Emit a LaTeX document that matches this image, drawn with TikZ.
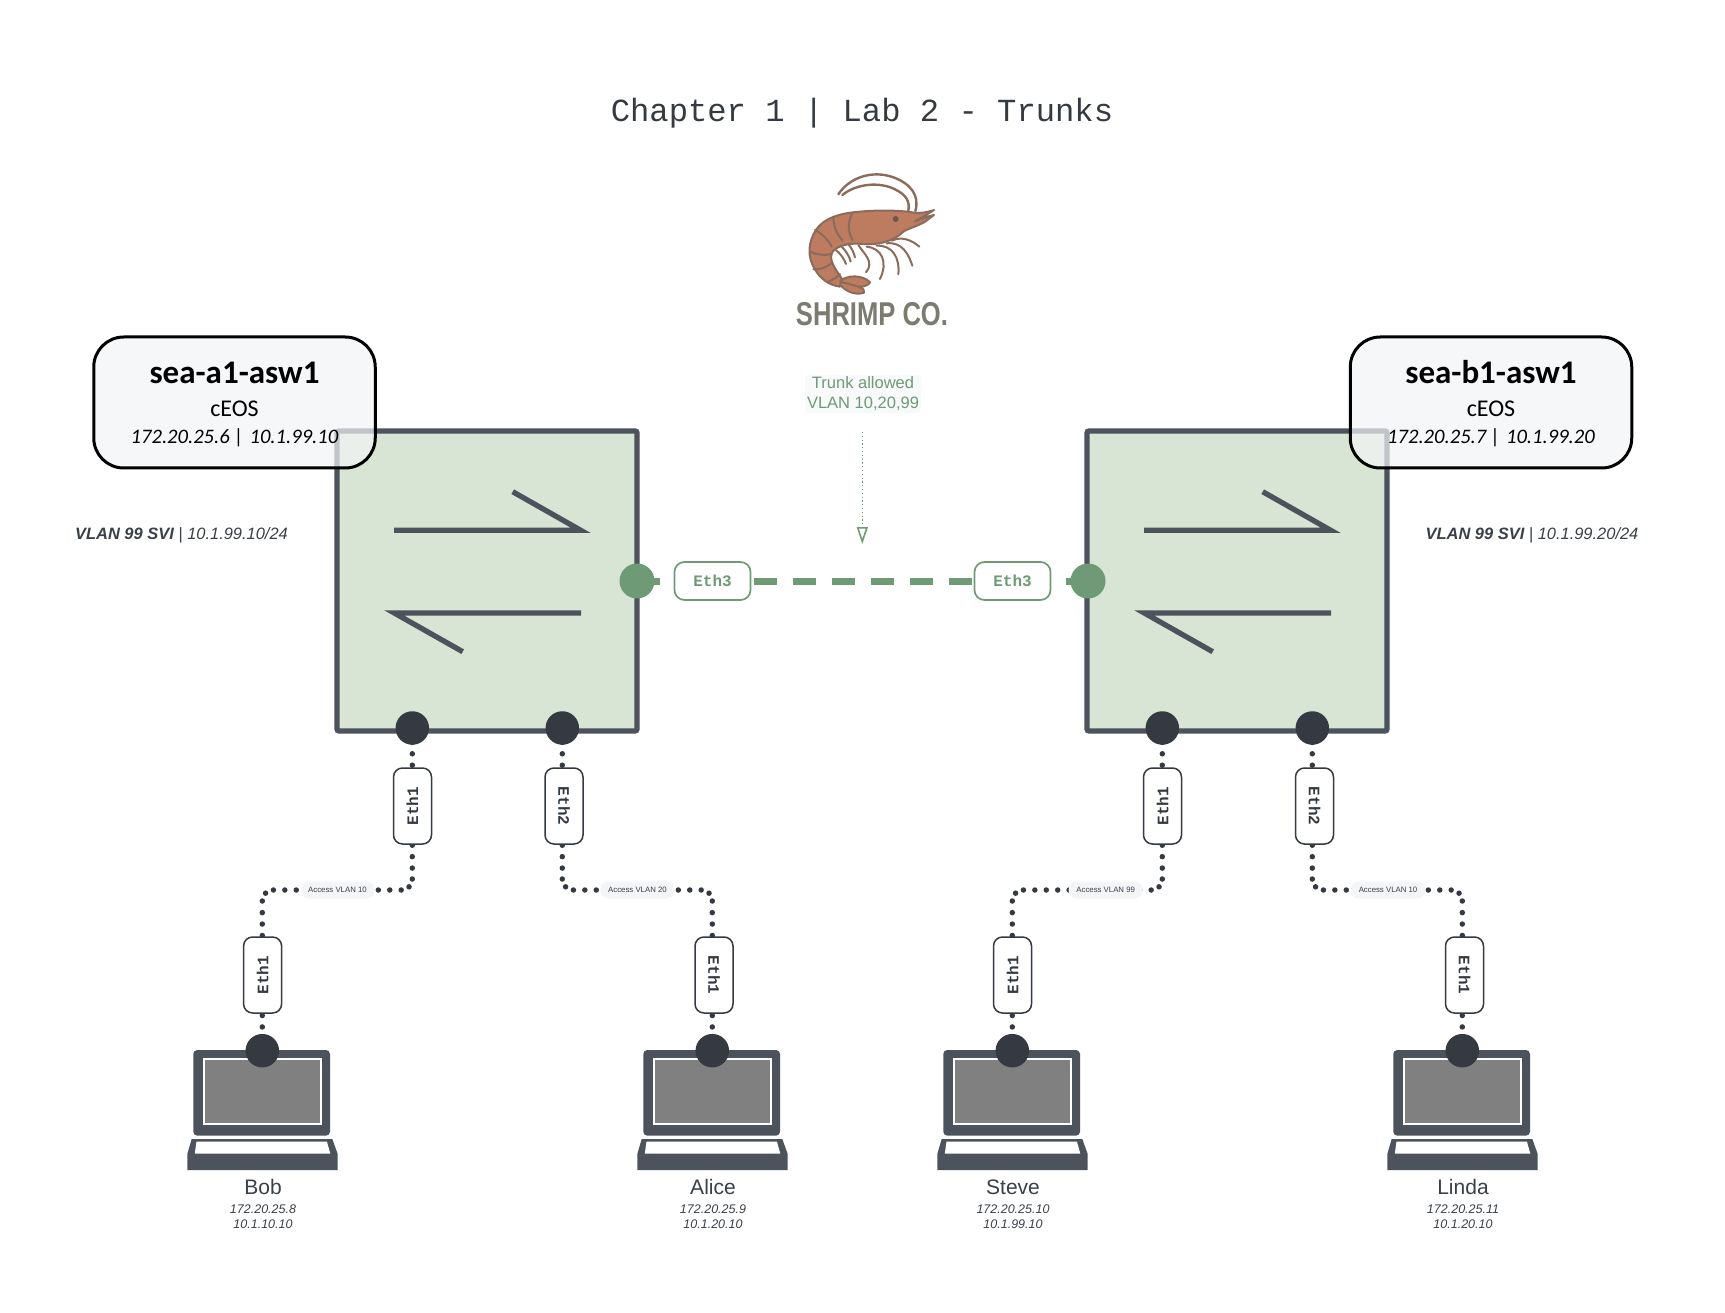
\documentclass[tikz,border=0pt]{standalone}
\usepackage{fontspec}
\setmainfont{Liberation Sans}
\setmonofont{Liberation Mono}
\newfontfamily\carl{Carlito}
\newfontfamily\shrimpfont[FakeStretch=0.775]{Liberation Sans}
\usetikzlibrary{arrows.meta,backgrounds}
\definecolor{slate}{HTML}{4C535D}
\definecolor{ink}{HTML}{353A42}
\definecolor{txt}{HTML}{3A4049}
\definecolor{swfill}{HTML}{D8E4D4}
\definecolor{sage}{HTML}{6F9A76}
\definecolor{panel}{HTML}{F3F5F7}
\definecolor{shr}{HTML}{BD7C60}
\definecolor{shrline}{HTML}{8A6B5C}
\definecolor{brandgrey}{HTML}{7B7B70}
\newcommand\fsz[2]{\fontsize{#1}{#2}\selectfont}
\tikzset{
  switchbox/.style={draw=slate,line width=5.3pt,fill=swfill,minimum size=300pt,inner sep=0pt,outer sep=0pt,rounded corners=2pt},
  swarrow/.style={draw=slate,line width=5.3pt,line join=miter,miter limit=10},
  infobox/.style={draw=black,line width=3pt,fill=panel,fill opacity=.7,text opacity=1,rounded corners=30pt,minimum width=281.5pt,minimum height=131pt,inner sep=0pt,align=center,text=black,font=\carl},
  portdark/.style={circle,fill=ink,minimum size=33.5pt,inner sep=0pt},
  portgreen/.style={circle,fill=sage,minimum size=35pt,inner sep=0pt},
  ethv/.style={draw=ink,line width=1.5pt,fill=white,rounded corners=9pt,minimum width=38pt,minimum height=76pt,inner sep=0pt,text=ink,font=\ttfamily\bfseries\fsz{16}{18}},
  ethh/.style={draw=sage,line width=1.7pt,fill=white,rounded corners=10pt,minimum width=76pt,minimum height=38pt,inner sep=0pt,text=sage,font=\ttfamily\bfseries\fsz{16}{18}},
  dotlink/.style={draw=ink,line width=5.5pt,line cap=round,dash pattern=on 0pt off 11.43pt},
  dotcorner/.style={draw=ink,line width=5.5pt,line cap=round,rounded corners=11pt,dash pattern=on 0pt off 8.64pt on 0pt off 8.64pt on 0pt off 11.43pt on 0pt off 11.43pt on 0pt off 11.43pt on 0pt off 11.43pt on 0pt off 11.43pt},
  trunklink/.style={draw=sage,line width=7pt,dash pattern=on 23pt off 16pt},
  vlanpill/.style={fill=panel,rounded corners=8pt,minimum width=74pt,minimum height=17pt,inner sep=0pt,text=txt,font=\fsz{7.8}{9}},
  svitext/.style={text=txt,inner sep=0pt,font=\itshape\fsz{16.45}{20}},
  hostname/.style={text=txt,inner sep=0pt,font=\fsz{21}{24}},
  hostip/.style={text=txt,inner sep=0pt,align=center,font=\itshape\fsz{12.5}{15}},
  laptopdark/.style={fill=slate},
  shrimpbody/.style={draw=shrline,line width=2pt,fill=shr,line join=round},
  shrimpline/.style={draw=shrline,line width=2pt,line cap=round},
}
\newcommand\laptop[2]{%
  \begin{scope}[shift={(#2,1050.7)}]
    \fill[laptopdark,rounded corners=4pt] (-69,-0.7) rectangle (67.7,85);
    \draw[white,line width=2pt,fill=gray] (-58.6,8.6) rectangle (58.4,73.3);
    \fill[laptopdark] (-70.6,88.3) -- (70,88.3) -- (75.4,103.3) -- (75.4,119.3) -- (-75,119.3) -- (-75,103.3) -- cycle;
    \fill[white] (-65.8,90.8) -- (64.6,90.8) -- (68,103) -- (-67.5,103) -- cycle;
  \end{scope}
  \node[portdark] (#1) at (#2,1050.7) {};
}
% one half of a host link: from a port to the VLAN pill on its row
\newcommand\halflink[4]{%
  \draw[dotlink,dash phase=#4] (#1.center) -- ([yshift=#3*15pt]#1.center |- #2.center);
  \draw[dotcorner] ([yshift=#3*11pt]#1.center |- #2.center) -- (#1.center |- #2.center) -- (#2.center);
}
\begin{document}
\begin{tikzpicture}[x=1pt,y=-1pt]
\useasboundingbox (0,0) rectangle (1725,1313);

% title
\node[text=ink,inner sep=0pt,font=\ttfamily\fsz{32.2}{36}] (title) at (862,113.5) {Chapter 1 | Lab 2 - Trunks};

% shrimp logo
\begin{scope}[shift={(760,150)},x=.33333pt,y=-.33333pt]
  \draw[shrimpline,line width=2.4pt] (235,133) .. controls (270,80) and (340,60) .. (400,82) .. controls (450,100) and (480,135) .. (466,183);
  \draw[shrimpline,line width=2.4pt] (247,135) .. controls (290,100) and (360,95) .. (405,118) .. controls (440,135) and (450,155) .. (445,183);
  \draw[shrimpline] (395,272) .. controls (425,258) and (455,270) .. (478,290);
  \draw[shrimpline] (380,280) .. controls (425,275) and (445,310) .. (457,347);
  \draw[shrimpline] (350,287) .. controls (395,285) and (420,320) .. (415,373);
  \draw[shrimpline] (320,290) .. controls (365,295) and (385,335) .. (360,387);
  \draw[shrimpline] (295,285) .. controls (310,310) and (345,335) .. (318,367);
  \draw[shrimpline] (265,282) .. controls (275,295) and (282,308) .. (285,322);
  \draw[shrimpline] (245,290) .. controls (258,303) and (268,318) .. (272,335);
  \draw[shrimpline] (228,300) .. controls (242,312) and (252,326) .. (258,342);
  \draw[shrimpbody] (238,396) .. controls (260,372) and (310,375) .. (330,397) .. controls (322,408) and (310,410) .. (298,411) .. controls (310,415) and (315,422) .. (312,428) .. controls (290,436) and (260,428) .. (238,402) -- cycle;
  \draw[shrimpbody] (522,180) .. controls (500,188) and (480,190) .. (462,188) .. controls (420,180) and (340,180) .. (290,186) .. controls (240,190) and (190,205) .. (168,240) .. controls (145,275) and (140,320) .. (165,358) .. controls (180,385) and (205,405) .. (240,410) -- (245,385) .. controls (220,350) and (205,325) .. (218,305) .. controls (235,285) and (270,278) .. (310,282) .. controls (350,286) and (400,275) .. (430,245) .. controls (445,235) and (475,228) .. (495,215) -- (522,195) .. controls (505,198) and (485,207) .. (465,214) -- (490,200) -- cycle;
  \draw[shrimpline] (220,200) .. controls (220,225) and (228,250) .. (248,272);
  \draw[shrimpline] (275,193) .. controls (262,220) and (265,250) .. (278,270);
  \draw[shrimpline] (165,240) .. controls (185,250) and (205,270) .. (215,290);
  \draw[shrimpline] (150,305) .. controls (170,315) and (195,317) .. (215,312);
  \draw[shrimpline] (160,358) .. controls (180,360) and (200,352) .. (217,338);
  \draw[shrimpline] (205,395) .. controls (218,390) and (232,380) .. (240,372);
  \draw[shrimpline] (240,395) -- (300,411);
  \fill[shrline!80!black] (407,207) circle[radius=9];
\end{scope}
\node[text=brandgrey,inner sep=0pt,font=\shrimpfont\bfseries\fsz{33}{36}] (brand) at (872,314) {SHRIMP CO.};

% trunk note
\node[fill=panel,fill opacity=.6,text opacity=1,rounded corners=4pt,text=sage,inner sep=2pt,align=center,font=\fsz{16.5}{20}] (trunknote) at (863,394) {Trunk allowed\\VLAN 10,20,99};
\coordinate (trunkS) at (862.3,432);
\coordinate (trunkE) at (862.3,544);
\draw[draw=sage,line width=1.2pt,dash pattern=on 1.2pt off 2.6pt,-{Triangle[open,length=17pt,width=11pt,line width=1.6pt]}] (trunkS) -- (trunkE);

% switches
\node[switchbox] (swa) at (487,581) {};
\node[switchbox] (swb) at (1237,581) {};
\draw[swarrow] (394,530.3) -- (580.7,530.3) -- (512.7,491.7);
\draw[swarrow] (581,613) -- (394.3,613) -- (462.7,651.7);
\draw[swarrow] (1144,530.3) -- (1330.7,530.3) -- (1262.7,491.7);
\draw[swarrow] (1331,613) -- (1144.3,613) -- (1212.7,651.7);

% ports
\node[portgreen] (pa3) at (637,581) {};
\node[portgreen] (pb3) at (1088,581) {};
\node[portdark] (pa1) at (412.3,728) {};
\node[portdark] (pa2) at (562.3,728) {};
\node[portdark] (pb1) at (1162.3,728) {};
\node[portdark] (pb2) at (1312.3,728) {};

% info panels
\node[infobox] (infoa) at (234.5,402.5) {\bfseries\fsz{33}{34}\rule{0pt}{24.8pt}sea-a1-asw1\\[17pt]\mdseries\fsz{24}{27}cEOS\\[10.5pt]\itshape\fsz{20.6}{27}172.20.25.6 |\ \hspace{1pt}10.1.99.10};
\node[infobox] (infob) at (1491,402.5) {\bfseries\fsz{33}{34}\rule{0pt}{24.8pt}sea-b1-asw1\\[17pt]\mdseries\fsz{24}{27}cEOS\\[10.5pt]\itshape\fsz{20.6}{27}172.20.25.7 |\ \hspace{1pt}10.1.99.20};

% SVI labels
\node[svitext] (svia) at (181.5,535) {\textbf{VLAN 99 SVI} | 10.1.99.10/24};
\node[svitext] (svib) at (1532,535) {\textbf{VLAN 99 SVI} | 10.1.99.20/24};

% laptops
\laptop{bob}{262.3}
\laptop{alice}{712.3}
\laptop{steve}{1012.3}
\laptop{linda}{1462.3}

\node[hostname] (bobn) at (263,1187) {Bob};
\node[hostname] (alicen) at (713,1187) {Alice};
\node[hostname] (steven) at (1013,1187) {Steve};
\node[hostname] (lindan) at (1463,1187) {Linda};
\node[hostip] (bobi) at (263,1216.5) {172.20.25.8\\10.1.10.10};
\node[hostip] (alicei) at (713,1216.5) {172.20.25.9\\10.1.20.10};
\node[hostip] (stevei) at (1013,1216.5) {172.20.25.10\\10.1.99.10};
\node[hostip] (lindai) at (1463,1216.5) {172.20.25.11\\10.1.20.10};

% port labels
\node[ethh] (e3a) at (712.5,581) {Eth3};
\node[ethh] (e3b) at (1012.5,581) {Eth3};
\node[ethv] (ea1) at (412.5,806) {\rotatebox{90}{Eth1}};
\node[ethv] (ea2) at (564,806) {\rotatebox{-90}{Eth2}};
\node[ethv] (eb1) at (1162.5,806) {\rotatebox{90}{Eth1}};
\node[ethv] (eb2) at (1314.5,806) {\rotatebox{-90}{Eth2}};
\node[ethv] (ebob) at (262.6,975) {\rotatebox{90}{Eth1}};
\node[ethv] (ealice) at (714,975) {\rotatebox{-90}{Eth1}};
\node[ethv] (esteve) at (1012.5,975) {\rotatebox{90}{Eth1}};
\node[ethv] (elinda) at (1464.5,975) {\rotatebox{-90}{Eth1}};

% vlan labels
\node[vlanpill] (v1) at (337.5,890) {Access VLAN 10};
\node[vlanpill] (v2) at (637.5,890) {Access VLAN 20};
\node[vlanpill] (v3) at (1105.7,890) {Access VLAN 99};
\node[vlanpill] (v4) at (1388,890) {Access VLAN 10};

% connectors
\begin{pgfonlayer}{background}
  \fill[white] (0,0) rectangle (1725,1313);
  \draw[trunklink] (pa3.center) -- (pb3.center);
  \halflink{pa1}{v1}{1}{8.5pt}
  \halflink{bob}{v1}{-1}{10.53pt}
  \halflink{pa2}{v2}{1}{8.5pt}
  \halflink{alice}{v2}{-1}{10.53pt}
  \halflink{pb1}{v3}{1}{8.5pt}
  \halflink{steve}{v3}{-1}{10.53pt}
  \halflink{pb2}{v4}{1}{8.5pt}
  \halflink{linda}{v4}{-1}{10.53pt}
\end{pgfonlayer}
\end{tikzpicture}
\end{document}
